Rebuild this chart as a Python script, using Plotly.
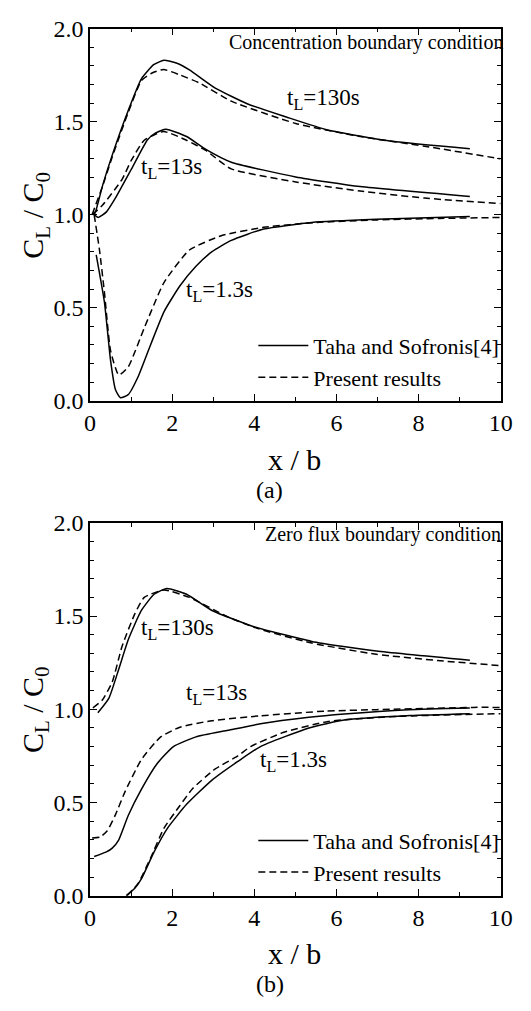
import plotly.graph_objects as go
from plotly.subplots import make_subplots

# ---------------- data: panel (a) concentration boundary condition ----------------
a130_sol_x = [0.1, 0.14, 0.31, 0.54, 0.93, 1.25, 1.55, 1.8, 2.1, 2.42, 3.05, 3.84, 4.78, 5.79, 7.36, 9.25]
a130_sol_y = [1.0, 1.02, 1.16, 1.32, 1.56, 1.73, 1.806, 1.83, 1.815, 1.778, 1.68, 1.595, 1.525, 1.455, 1.394, 1.354]
a130_dsh_x = [0.05, 0.3, 0.54, 0.93, 1.25, 1.5, 1.79, 2.2, 2.66, 3.44, 5.01, 6.58, 8.15, 10.0]
a130_dsh_y = [1.0, 1.15, 1.31, 1.55, 1.72, 1.76, 1.78, 1.75, 1.708, 1.61, 1.49, 1.42, 1.368, 1.30]

a13_sol_x = [0.1, 0.2, 0.4, 0.62, 1.01, 1.4, 1.6, 1.85, 2.35, 2.82, 3.44, 5.01, 6.58, 9.25]
a13_sol_y = [1.0, 0.985, 1.015, 1.09, 1.246, 1.403, 1.44, 1.459, 1.42, 1.351, 1.282, 1.203, 1.151, 1.098]
a13_dsh_x = [0.05, 0.3, 0.78, 1.0, 1.32, 1.79, 2.35, 2.82, 3.44, 5.01, 6.58, 8.15, 10.0]
a13_dsh_y = [1.0, 1.05, 1.19, 1.29, 1.40, 1.447, 1.40, 1.345, 1.246, 1.176, 1.127, 1.089, 1.06]

a1_sol_x = [0.15, 0.35, 0.5, 0.62, 0.74, 0.93, 1.17, 1.48, 1.8, 2.19, 2.58, 2.97, 3.44, 4.23, 5.4, 6.97, 9.25]
a1_sol_y = [0.784, 0.53, 0.216, 0.059, 0.016, 0.033, 0.129, 0.304, 0.478, 0.618, 0.723, 0.801, 0.862, 0.923, 0.958, 0.975, 0.99]
a1_dsh_x = [0.1, 0.23, 0.35, 0.5, 0.7, 0.93, 1.32, 1.8, 2.42, 3.21, 4.23, 5.5, 7.0, 8.5, 10.0]
a1_dsh_y = [1.0, 0.81, 0.583, 0.269, 0.138, 0.182, 0.391, 0.635, 0.81, 0.888, 0.932, 0.958, 0.972, 0.98, 0.985]

# ---------------- data: panel (b) zero flux boundary condition ----------------
b130_sol_x = [0.19, 0.46, 0.7, 0.93, 1.25, 1.56, 1.87, 2.35, 2.97, 3.99, 5.4, 6.97, 9.25]
b130_sol_y = [0.981, 1.06, 1.216, 1.373, 1.53, 1.617, 1.648, 1.617, 1.53, 1.443, 1.364, 1.312, 1.263]
b130_dsh_x = [0.07, 0.3, 0.54, 0.78, 1.09, 1.32, 1.8, 2.42, 3.36, 4.07, 5.4, 6.97, 8.54, 10.0]
b130_dsh_y = [1.007, 1.05, 1.146, 1.338, 1.512, 1.6, 1.64, 1.6, 1.495, 1.434, 1.355, 1.295, 1.26, 1.234]

b13_sol_x = [0.1, 0.4, 0.54, 0.7, 0.93, 1.25, 1.64, 2.03, 2.58, 3.36, 4.15, 5.33, 6.19, 7.76, 9.25]
b13_sol_y = [0.21, 0.235, 0.255, 0.3, 0.43, 0.57, 0.71, 0.8, 0.852, 0.887, 0.922, 0.957, 0.975, 0.998, 1.007]
b13_dsh_x = [0.05, 0.25, 0.42, 0.62, 0.85, 1.25, 1.72, 2.19, 2.97, 4.15, 5.72, 6.97, 9.32, 10.0]
b13_dsh_y = [0.31, 0.315, 0.348, 0.435, 0.557, 0.73, 0.852, 0.904, 0.939, 0.965, 0.99, 0.998, 1.01, 1.01]

b1_sol_x = [0.88, 1.09, 1.25, 1.56, 1.88, 2.35, 2.97, 3.6, 4.15, 5.33, 6.19, 7.8, 9.25]
b1_sol_y = [0.0, 0.04, 0.09, 0.235, 0.36, 0.49, 0.62, 0.72, 0.8, 0.9, 0.942, 0.966, 0.976]
b1_dsh_x = [0.9, 1.17, 1.48, 1.8, 2.19, 2.5, 3.05, 3.6, 3.91, 4.7, 5.8, 7.5, 10.0]
b1_dsh_y = [0.0, 0.066, 0.205, 0.362, 0.484, 0.575, 0.68, 0.75, 0.8, 0.875, 0.935, 0.962, 0.976]

legend_names = ["Taha and Sofronis[4]", "Present results"]
x_ticks = [0, 2, 4, 6, 8, 10]
y_ticks = [0.0, 0.5, 1.0, 1.5, 2.0]
y_tick_text = ["0.0", "0.5", "1.0", "1.5", "2.0"]

FONT = "Liberation Serif, Times New Roman, serif"
DASH = "7px,4px"
LW = 1.5

fig = make_subplots(rows=2, cols=1)

panels = [
    (1, "legend", [(a130_sol_x, a130_sol_y, a130_dsh_x, a130_dsh_y),
                   (a13_sol_x, a13_sol_y, a13_dsh_x, a13_dsh_y),
                   (a1_sol_x, a1_sol_y, a1_dsh_x, a1_dsh_y)]),
    (2, "legend2", [(b130_sol_x, b130_sol_y, b130_dsh_x, b130_dsh_y),
                    (b13_sol_x, b13_sol_y, b13_dsh_x, b13_dsh_y),
                    (b1_sol_x, b1_sol_y, b1_dsh_x, b1_dsh_y)]),
]

for row, leg, curves in panels:
    for i, (sx, sy, dx, dy) in enumerate(curves):
        fig.add_trace(go.Scatter(x=sx, y=sy, mode="lines", name=legend_names[0],
                                 line=dict(color="black", width=LW, shape="spline", smoothing=0.5),
                                 showlegend=(i == 0), legend=leg), row=row, col=1)
    for i, (sx, sy, dx, dy) in enumerate(curves):
        fig.add_trace(go.Scatter(x=dx, y=dy, mode="lines", name=legend_names[1],
                                 line=dict(color="black", width=LW, dash=DASH, shape="spline", smoothing=0.5),
                                 showlegend=(i == 0), legend=leg), row=row, col=1)

W, H = 531, 1011
xdom = [87 / W, 512 / W]
ydom_a = [1 - 398 / H, 1 - 16 / H]
ydom_b = [1 - 906 / H, 1 - 523.3 / H]

axis_common = dict(
    showgrid=False, zeroline=False, showline=True, linecolor="black", linewidth=1.5,
    mirror="allticks", ticks="inside", ticklen=7, tickwidth=1.3, tickcolor="black",
    tickfont=dict(family=FONT, size=24, color="black"),
)

for r, ydom in [(1, ydom_a), (2, ydom_b)]:
    xa = "xaxis" if r == 1 else "xaxis2"
    ya = "yaxis" if r == 1 else "yaxis2"
    fig.layout[xa].update(domain=xdom, range=[0, 10], tickvals=x_ticks,
                          minor=dict(ticks="inside", ticklen=4, dtick=1, tickcolor="black", tickwidth=1.2),
                          **axis_common)
    fig.layout[ya].update(domain=ydom, range=[0, 2], tickvals=y_ticks, ticktext=y_tick_text,
                          minor=dict(ticks="inside", ticklen=4, dtick=0.1, tickcolor="black", tickwidth=1.2),
                          **axis_common)

leg_style = dict(font=dict(family=FONT, size=22, color="black"), bgcolor="rgba(0,0,0,0)",
                 borderwidth=0, itemwidth=50, tracegroupgap=0, xanchor="left", yanchor="top")
fig.update_layout(
    width=W, height=H, margin=dict(l=0, r=0, t=0, b=0),
    paper_bgcolor="white", plot_bgcolor="white",
    legend=dict(x=256 / W, y=1 - 320 / H, **leg_style),
    legend2=dict(x=256 / W, y=1 - 828 / H, **leg_style),
)

lab_font = dict(family=FONT, size=23, color="black")
cond_font = dict(family=FONT, size=20, color="black")
ann = []
# curve labels, panel a
ann += [
    dict(x=4.75, y=1.62, xref="x", yref="y", text="t<sub>L</sub>=130s", showarrow=False, xanchor="left", font=lab_font),
    dict(x=1.2, y=1.25, xref="x", yref="y", text="t<sub>L</sub>=13s", showarrow=False, xanchor="left", font=lab_font),
    dict(x=2.3, y=0.59, xref="x", yref="y", text="t<sub>L</sub>=1.3s", showarrow=False, xanchor="left", font=lab_font),
    dict(x=9.92, y=1.925, xref="x", yref="y", text="Concentration boundary condition", showarrow=False,
         xanchor="right", xshift=8, font=cond_font),
]
# curve labels, panel b
ann += [
    dict(x=1.2, y=1.43, xref="x2", yref="y2", text="t<sub>L</sub>=130s", showarrow=False, xanchor="left", font=lab_font),
    dict(x=2.3, y=1.08, xref="x2", yref="y2", text="t<sub>L</sub>=13s", showarrow=False, xanchor="left", font=lab_font),
    dict(x=4.1, y=0.72, xref="x2", yref="y2", text="t<sub>L</sub>=1.3s", showarrow=False, xanchor="left", font=lab_font),
    dict(x=9.82, y=1.94, xref="x2", yref="y2", text="Zero flux boundary condition", showarrow=False,
         xanchor="right", xshift=10, font=cond_font),
]
title_font = dict(family=FONT, size=30, color="black")
for ycen_px, xt_px, cap_px, cap in [(207, 458, 490, "(a)"), (714.5, 965, 997, "(b)")]:
    ann.append(dict(x=30 / W, y=1 - ycen_px / H, xref="paper", yref="paper", text="C<sub>L</sub> / C<sub>0</sub>",
                    textangle=-90, showarrow=False, font=title_font, xanchor="center", yanchor="middle"))
    ann.append(dict(x=299 / W, y=1 - xt_px / H, xref="paper", yref="paper", text="x / b",
                    showarrow=False, font=title_font, xanchor="center", yanchor="middle"))
    ann.append(dict(x=273 / W, y=1 - cap_px / H, xref="paper", yref="paper", text=cap,
                    showarrow=False, font=dict(family=FONT, size=24, color="black"), xanchor="center", yanchor="middle"))
fig.update_layout(annotations=ann)

fig.write_html("out.html")
